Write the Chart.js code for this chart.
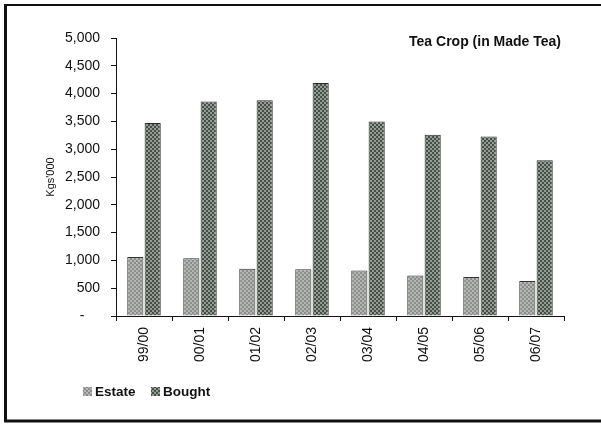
<!DOCTYPE html>
<html>
<head>
<meta charset="utf-8">
<script src="https://cdn.jsdelivr.net/npm/chart.js@4/dist/chart.umd.min.js"></script>
<style>
	html, body { margin: 0; padding: 0; background: #fff; }
	#wrap { width: 601px; height: 424px; }
</style>
</head>
<body>
<div id="wrap"><canvas id="chart"></canvas></div>
<script>
// values (Kgs'000)
const seasons = ['99/00', '00/01', '01/02', '02/03', '03/04', '04/05', '05/06', '06/07'];
const estate = [1060, 1040, 850, 840, 820, 730, 700, 630];
const bought = [3470, 3860, 3880, 4190, 3500, 3260, 3230, 2800];
const yTicks = [0, 500, 1000, 1500, 2000, 2500, 3000, 3500, 4000, 4500, 5000];

const FONT = '"Liberation Sans", Arial, sans-serif';

// small checker patterns like the printed bars
function makePattern(dark, light) {
	const c = document.createElement('canvas');
	c.width = 4;
	c.height = 4;
	const g = c.getContext('2d');
	g.fillStyle = light;
	g.fillRect(0, 0, 4, 4);
	g.fillStyle = dark;
	g.fillRect(0, 0, 2, 2);
	g.fillRect(2, 2, 2, 2);
	return g.createPattern(c, 'repeat');
}
const estateFill = makePattern('#8a8d8a', '#b4b7b4');
const boughtFill = makePattern('#465046', '#949b94');

const frame = {
	id: 'frame',
	beforeDraw(chart) {
		const { ctx, width, height } = chart;
		ctx.save();
		ctx.fillStyle = '#fff';
		ctx.fillRect(0, 0, width, height);
		ctx.strokeStyle = '#111';
		ctx.lineWidth = 2;
		ctx.beginPath();
		ctx.moveTo(5, 5);
		ctx.lineTo(width + 5, 5);
		ctx.stroke();
		ctx.lineWidth = 3;
		ctx.beginPath();
		ctx.moveTo(5.5, 4);
		ctx.lineTo(5.5, 421);
		ctx.lineTo(width + 5, 421);
		ctx.stroke();
		ctx.restore();
	},
	afterDraw(chart) {
		const { ctx } = chart;
		ctx.save();
		// title
		ctx.fillStyle = '#111';
		ctx.font = 'bold 14px ' + FONT;
		ctx.textAlign = 'right';
		ctx.textBaseline = 'middle';
		ctx.fillText('Tea Crop (in Made Tea)', 561, 42);
		// legend
		const items = [
			{ text: 'Estate', fill: estateFill, x: 83 },
			{ text: 'Bought', fill: boughtFill, x: 151 },
		];
		ctx.textAlign = 'left';
		ctx.font = 'bold 13.5px ' + FONT;
		items.forEach(item => {
			ctx.fillStyle = item.fill;
			ctx.fillRect(item.x, 387, 9, 9);
			ctx.fillStyle = '#111';
			ctx.fillText(item.text, item.x + 12, 392);
		});
		ctx.restore();
	},
};

const config = {
	type: 'bar',
	data: {
		labels: seasons,
		datasets: [
			{
				label: 'Estate',
				data: estate,
				backgroundColor: estateFill,
				borderColor: '#333',
				borderWidth: 1,
			},
			{
				label: 'Bought',
				data: bought,
				backgroundColor: boughtFill,
				borderColor: '#2a2e2a',
				borderWidth: 1,
			},
		],
	},
	options: {
		responsive: true,
		maintainAspectRatio: false,
		animation: false,
		devicePixelRatio: 1,
		layout: {
			padding: { left: 0, top: 38, right: 37, bottom: 0 },
		},
		datasets: {
			bar: {
				categoryPercentage: 0.62,
				barPercentage: 0.93,
			},
		},
		scales: {
			x: {
				grid: {
					offset: true,
					drawOnChartArea: false,
					drawTicks: true,
					tickLength: 5,
					color: '#111',
				},
				border: { color: '#111', width: 1 },
				ticks: {
					color: '#111',
					font: { family: FONT, size: 14 },
					minRotation: 90,
					maxRotation: 90,
					padding: 6,
				},
				afterFit: scale => {
					scale.height = 108;
				},
			},
			y: {
				min: 0,
				max: 5000,
				afterBuildTicks: scale => {
					scale.ticks = yTicks.map(v => ({ value: v }));
				},
				grid: {
					drawOnChartArea: false,
					drawTicks: true,
					tickLength: 5,
					color: '#111',
				},
				border: { color: '#111', width: 1 },
				ticks: {
					color: '#111',
					font: { family: FONT, size: 14 },
					padding: 11,
					callback: v => (v === 0 ? '-    ' : v.toLocaleString('en-US')),
				},
				title: {
					display: true,
					text: "Kgs'000",
					color: '#111',
					font: { family: FONT, size: 11 },
					padding: { top: 44, bottom: 0 },
				},
				afterFit: scale => {
					scale.width = 116;
				},
			},
		},
		plugins: {
			legend: { display: false },
			tooltip: { enabled: false },
		},
	},
	plugins: [frame],
};

const myChart = new Chart(document.getElementById('chart'), config);
</script>
</body>
</html>
